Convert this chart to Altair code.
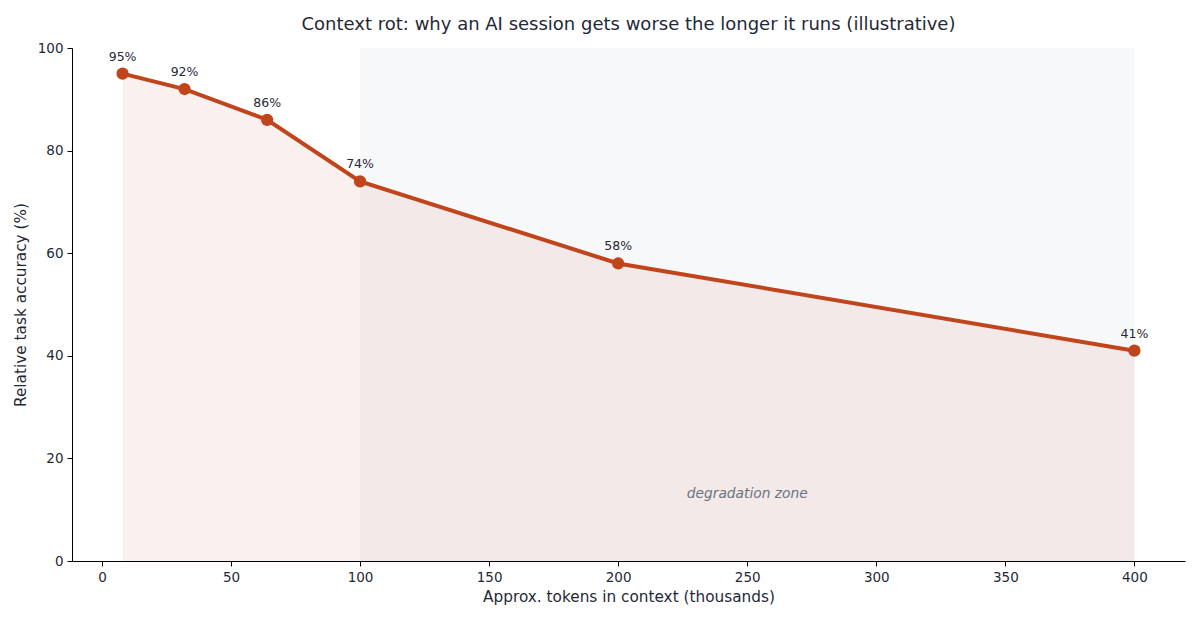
import altair as alt
import pandas as pd

tokens = [8, 32, 64, 100, 200, 400]
accuracy = [95, 92, 86, 74, 58, 41]
labels = ["95%", "92%", "86%", "74%", "58%", "41%"]

zone_start = [100]
zone_end = [400]
zone_text = ["degradation zone"]
zone_text_x = [250]
zone_text_y = [13]

df = pd.DataFrame({"tokens": tokens, "accuracy": accuracy, "label": labels})
zone = pd.DataFrame({"x": zone_start, "x2": zone_end, "y": [0], "y2": [100]})
ztext = pd.DataFrame({"x": zone_text_x, "y": zone_text_y, "t": zone_text})

RED = "#c0441c"
FONT = "DejaVu Sans"

xscale = alt.Scale(domain=[-11.6, 419.6], nice=False, zero=False)
yscale = alt.Scale(domain=[0, 100], nice=False)

xaxis = alt.Axis(title="Approx. tokens in context (thousands)", values=[0, 50, 100, 150, 200, 250, 300, 350, 400],
                 grid=False, tickSize=5, labelFontSize=13.5, titleFontSize=15.3, labelPadding=4,
                 titlePadding=6, labelColor="#1f2937", titleColor="#1f2937", domainColor="#000000",
                 tickColor="#000000", labelFont=FONT, titleFont=FONT, titleFontWeight="normal")
yaxis = alt.Axis(title="Relative task accuracy (%)", values=[0, 20, 40, 60, 80, 100],
                 grid=False, tickSize=5, labelFontSize=13.5, titleFontSize=15.3, labelPadding=4,
                 titlePadding=9, labelColor="#1f2937", titleColor="#1f2937", domainColor="#000000",
                 tickColor="#000000", labelFont=FONT, titleFont=FONT, titleFontWeight="normal")

band = alt.Chart(zone).mark_rect(color="#f7f8fa").encode(
    x=alt.X("x:Q", scale=xscale, axis=xaxis),
    x2="x2:Q",
    y=alt.Y("y:Q", scale=yscale, axis=yaxis),
    y2="y2:Q",
)

base = alt.Chart(df).encode(
    x=alt.X("tokens:Q", scale=xscale),
    y=alt.Y("accuracy:Q", scale=yscale),
)

area = base.mark_area(color=RED, opacity=0.08)
line = base.mark_line(color=RED, strokeWidth=4)
pts = base.mark_point(color=RED, filled=True, opacity=1, size=150)
txt = base.mark_text(dy=-10, baseline="bottom", fontSize=12.5, font=FONT, color="#1f2937").encode(text="label:N")

zt = alt.Chart(ztext).mark_text(fontSize=13.8, font=FONT, fontStyle="italic", color="#6b7280").encode(
    x=alt.X("x:Q", scale=xscale), y=alt.Y("y:Q", scale=yscale), text="t:N")

chart = alt.layer(band, area, line, pts, txt, zt).properties(
    width=1113, height=513,
    background="white",
    title=alt.TitleParams("Context rot: why an AI session gets worse the longer it runs (illustrative)",
                          fontSize=18, font=FONT, fontWeight="normal", color="#1f2937", offset=7),
    autosize=alt.AutoSizeParams(type="none"),
    padding={"left": 64, "top": 40, "right": 7, "bottom": 51},
).configure_view(stroke=None, strokeWidth=0)

chart.save("out.html", embed_options={"renderer": "svg", "actions": False})
